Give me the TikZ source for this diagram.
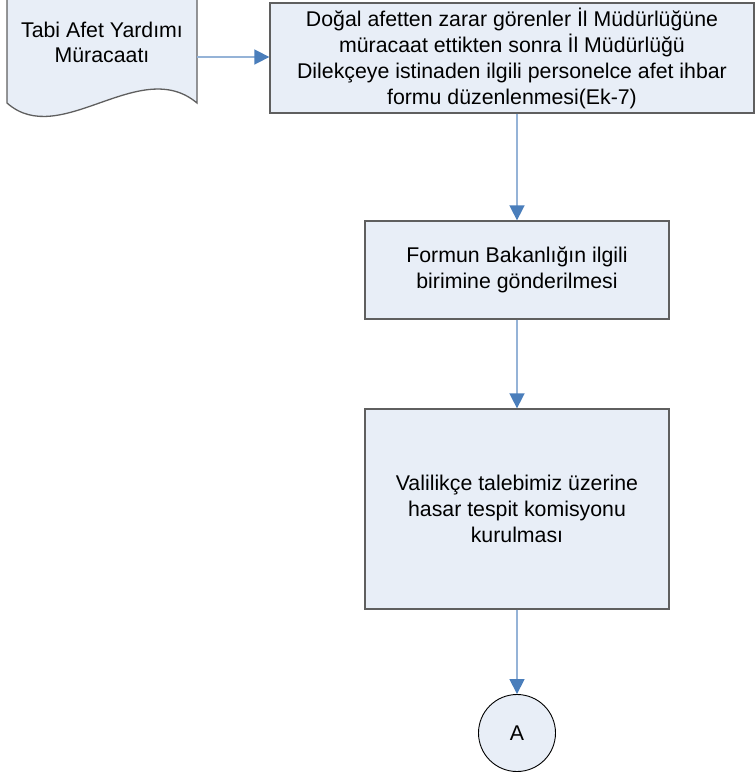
\documentclass[tikz,border=0pt]{standalone}
\usepackage{fontspec}
\setmainfont{Liberation Sans}
\usetikzlibrary{arrows.meta}
\definecolor{boxfill}{HTML}{E8EEF7}
\definecolor{boxline}{HTML}{5F5F5F}
\definecolor{arrline}{HTML}{95B3D7}
\definecolor{arrtip}{HTML}{4A7EBB}
\tikzset{
  txt/.style={font=\fontsize{21.3}{26}\selectfont, align=center, text=black},
  procbox/.style={txt, draw=boxline, line width=1.3pt, fill=boxfill, rectangle, inner sep=0pt},
  conn/.style={draw=arrline, line width=1.6pt, -{Triangle[length=15pt,width=15pt,color=arrtip]}},
}
\begin{document}
\begin{tikzpicture}[x=1pt,y=-1pt]
\useasboundingbox (0,0) rectangle (755,777);
% document shape
\draw[boxline, line width=1.3pt, fill=boxfill]
  (7,-5) -- (7,103) .. controls (60,150) and (140,55) .. (197,103) -- (197,-5);
\node[txt, font=\fontsize{21.3}{25}\selectfont] (doc) at (102,42) {Tabi Afet Yardımı\\Müracaatı};
\coordinate (docR) at (197,57);
% boxes
\node[procbox, minimum width=484pt, minimum height=110pt] (b1) at (512,58)
  {Doğal afetten zarar görenler İl Müdürlüğüne\\müracaat ettikten sonra İl Müdürlüğü\\Dilekçeye istinaden ilgili personelce afet ihbar\\formu düzenlenmesi(Ek-7)};
\node[procbox, minimum width=304pt, minimum height=98pt] (b2) at (517,270)
  {Formun Bakanlığın ilgili\\birimine gönderilmesi};
\node[procbox, minimum width=304pt, minimum height=200pt] (b3) at (517,509)
  {Valilikçe talebimiz üzerine\\hasar tespit komisyonu\\kurulması};
\node[txt, circle, draw=black, line width=0.9pt, fill=boxfill, minimum size=77pt, inner sep=0pt] (A) at (517,733) {A};
% connectors
\draw[conn] (docR) -- (docR -| b1.west);
\draw[conn] (b2.north |- b1.south) -- (b2.north);
\draw[conn] (b2.south) -- (b3.north);
\draw[conn] (b3.south) -- (A.north);
\end{tikzpicture}
\end{document}
